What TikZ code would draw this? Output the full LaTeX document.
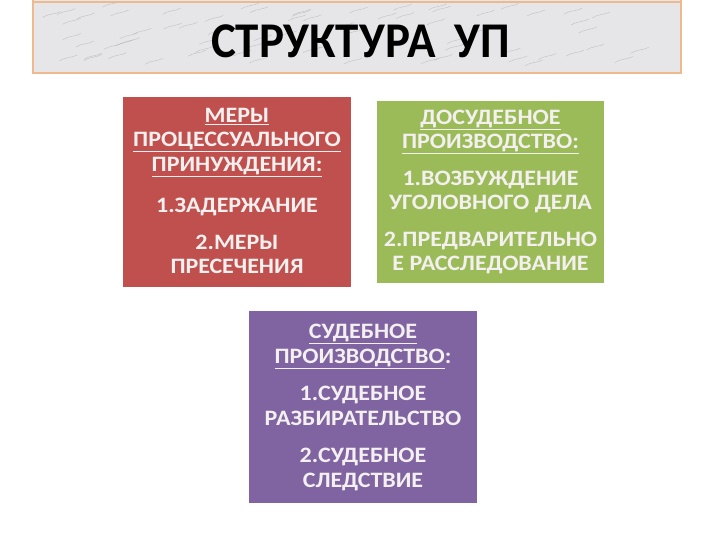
\documentclass[tikz,border=0pt]{standalone}
\usepackage{fontspec}
\setmainfont{Carlito}
\usetikzlibrary{positioning}
\definecolor{boxred}{HTML}{C0504D}
\definecolor{boxgreen}{HTML}{9BBB59}
\definecolor{boxviolet}{HTML}{8064A2}
\definecolor{boxtext}{HTML}{F4F0F0}
\definecolor{marble}{HTML}{E6E6E8}
\definecolor{marblevein}{HTML}{A8A8AC}
\definecolor{marbleline}{HTML}{EFB98E}
\tikzset{
  stagebox/.style={inner sep=0pt,align=center,xscale=1.09,
    text=boxtext,font=\fontsize{22}{24.5}\selectfont\bfseries},
  headline/.style={font=\fontsize{50}{56}\selectfont\bfseries,xscale=0.94},
  vein/.style={marblevein,line width=0.4pt,opacity=0.6}
}
\newcommand{\gap}[1]{\\[#1pt]}

\begin{document}
\begin{tikzpicture}[x=1pt,y=-1pt]
\useasboundingbox (0,0) rectangle (720,540);
\fill[white] (0,0) rectangle (720,540);
% banner
\fill[marble] (33,0) rectangle (681,73);
\pgfmathsetseed{7}
\foreach \i in {1,...,70}{
  \pgfmathsetmacro{\vx}{40+600*rnd}
  \pgfmathsetmacro{\vy}{6+60*rnd}
  \draw[vein] (\vx,\vy) .. controls ++(6,-4) and ++(-5,3) .. ++(18,-6);
}
\draw[marbleline,line width=1.2pt] (33,2) -- (681,2);
\draw[marbleline,line width=1.2pt] (33,0) -- (33,73) -- (681,73) -- (681,0);
\node[headline] (title) at (360.5,41) {СТРУКТУРА\, УП};
% boxes
\fill[boxred] (123,97) rectangle (351,287);
\fill[boxgreen] (377,101) rectangle (604,283);
\fill[boxviolet] (249,311) rectangle (477,503);
\node[stagebox] (coercion) at (237,191)
{\underline{МЕРЫ}\\\underline{ПРОЦЕССУАЛЬНОГО}\\\underline{ПРИНУЖДЕНИЯ:}\gap{17}
1.ЗАДЕРЖАНИЕ\gap{12}2.МЕРЫ\\ПРЕСЕЧЕНИЯ};
\node[stagebox] (pretrial) at (490.5,192)
{\underline{ДОСУДЕБНОЕ}\\\underline{ПРОИЗВОДСТВО:}\gap{12}
1.ВОЗБУЖДЕНИЕ\\УГОЛОВНОГО ДЕЛА\gap{12}2.ПРЕДВАРИТЕЛЬНО\\Е РАССЛЕДОВАНИЕ};
\node[stagebox] (trial) at (363,407.5)
{\underline{СУДЕБНОЕ}\\\underline{ПРОИЗВОДСТВО}:\gap{13}
1.СУДЕБНОЕ\\РАЗБИРАТЕЛЬСТВО\gap{13}2.СУДЕБНОЕ\\СЛЕДСТВИЕ};
\end{tikzpicture}
\end{document}
